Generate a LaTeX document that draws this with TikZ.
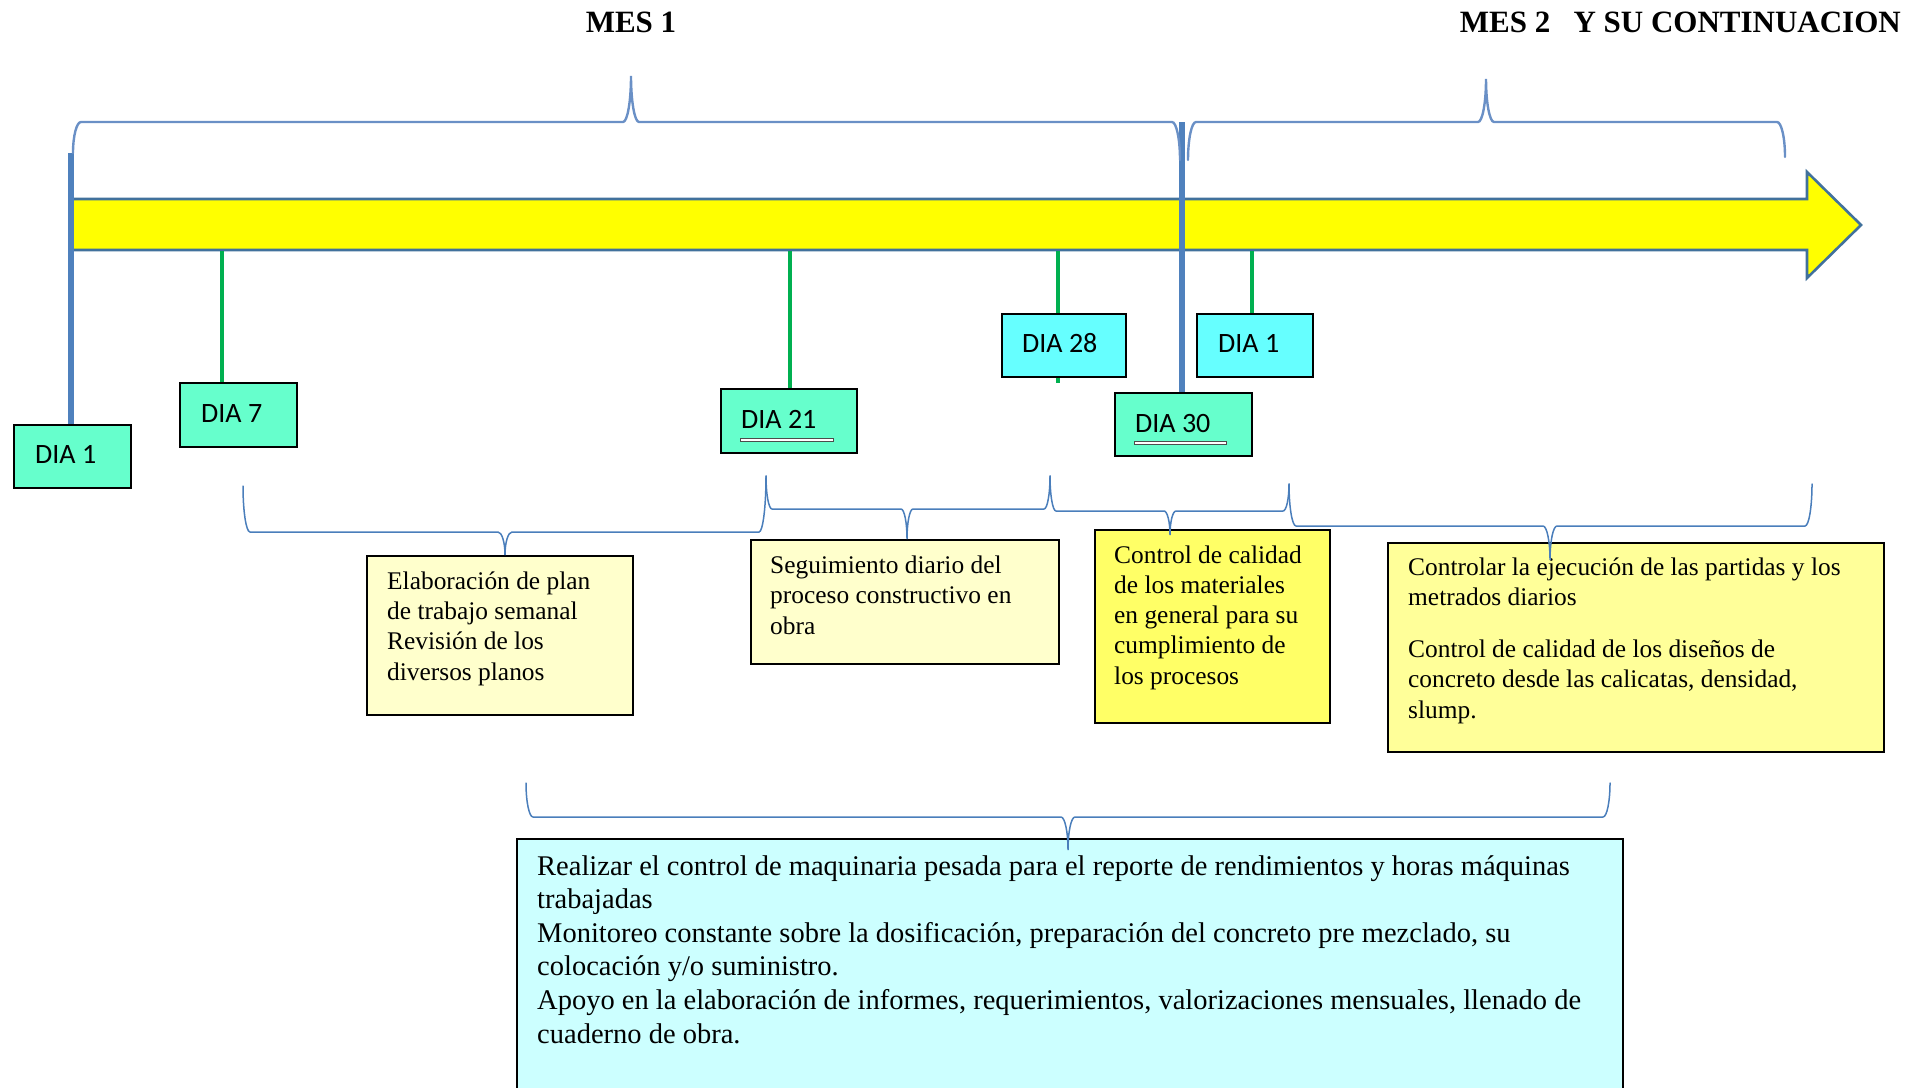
\documentclass[tikz,border=0pt]{standalone}
\usepackage{fontspec}
\setmainfont{Liberation Serif}
\newfontfamily\diafont{Carlito}

\definecolor{aquabox}{HTML}{66FFCC}
\definecolor{cyanbox}{HTML}{66FFFF}
\definecolor{paleyellow}{HTML}{FFFFCC}
\definecolor{brightyellow}{HTML}{FFFF66}
\definecolor{softyellow}{HTML}{FFFF99}
\definecolor{paleblue}{HTML}{CCFFFF}
\definecolor{barfill}{HTML}{FFFF00}
\definecolor{bracecol}{HTML}{4A7EBB}
\definecolor{topbracecol}{HTML}{6A90C6}
\definecolor{markcol}{HTML}{4F81BD}
\definecolor{tickgreen}{HTML}{00B050}
\definecolor{arrowedge}{HTML}{41719C}

% curly brace: style, x1, yEnd1, x2, yEnd2, xTip, yBar, yTip, half-width
\newcommand{\timebrace}[9]{%
  \draw[#1] (#2,#3) .. controls (#2,{#7+0.45*(#3-#7)}) and ({#2+0.45*#9},#7) .. ({#2+#9},#7)
    -- ({#6-#9},#7) .. controls ({#6-0.45*#9},#7) and (#6,{#7+0.45*(#8-#7)}) .. (#6,#8)
    .. controls (#6,{#7+0.45*(#8-#7)}) and ({#6+0.45*#9},#7) .. ({#6+#9},#7)
    -- ({#4-#9},#7) .. controls ({#4-0.45*#9},#7) and (#4,{#7+0.45*(#5-#7)}) .. (#4,#5);}

\tikzset{
  diabox/.style={draw=black, line width=2.4pt, anchor=north west, inner sep=0pt},
  dialabel/.style={anchor=base west, inner sep=0pt, font=\diafont\fontsize{28}{32}\selectfont},
  notebox/.style={draw=black, line width=2.4pt, anchor=north west, inner sep=0pt},
  % multi-line texts are placed by the baseline of their last line
  notetext/.style={anchor=base west, inner sep=0pt, align=left, font=\fontsize{25.4}{30.2}\selectfont},
  bigtext/.style={anchor=base west, inner sep=0pt, align=left, font=\fontsize{28.5}{33.6}\selectfont},
  heading/.style={inner sep=0pt, font=\fontsize{31}{36}\selectfont\bfseries},
  tick/.style={draw=tickgreen, line width=3.2pt},
  marker/.style={draw=markcol, line width=5.5pt},
  lowbrace/.style={draw=bracecol, line width=1.5pt, line cap=round},
  highbrace/.style={draw=topbracecol, line width=2.4pt, line cap=round},
  underbar/.style={draw=black!70, fill=white, line width=0.6pt}
}

\begin{document}
\begin{tikzpicture}[x=1pt, y=-1pt]
\useasboundingbox (0,0) rectangle (1918,1087);
\clip (0,0) rectangle (1918,1087);

% headings
\node[heading, anchor=base] (mes1) at (631,32) {MES 1};
\node[heading, anchor=base east] (mes2) at (1901,32) {MES 2\hspace{0.75em}Y SU CONTINUACION};

% time line arrow
\draw[draw=arrowedge, line width=2.6pt, fill=barfill, line join=miter]
  (71,199) -- (1807,199) -- (1807,172) -- (1861,225) -- (1807,278) -- (1807,250) -- (71,250) -- cycle;

% tick points on the time line
\coordinate (k7) at (222,251);
\coordinate (k21) at (790,251);
\coordinate (k28) at (1058,251);
\coordinate (k28end) at (1058,383);
\coordinate (kb1) at (1252,251);
\coordinate (m1) at (71,153);
\coordinate (m2) at (1182,122);

% green ticks
\draw[tick] (k28) -- (k28end);

% day boxes
\node[diabox, fill=aquabox, minimum width=117pt, minimum height=63pt] (d1) at (13,424) {};
\node[dialabel] (d1l) at (35,463) {DIA 1};
\node[diabox, fill=aquabox, minimum width=117pt, minimum height=64pt] (d7) at (179,382) {};
\node[dialabel] (d7l) at (201,422) {DIA 7};
\node[diabox, fill=aquabox, minimum width=136pt, minimum height=64pt] (d21) at (720,388) {};
\node[dialabel] (d21l) at (741,428) {DIA 21};
\draw[underbar] (740,438) rectangle (833,441);
\node[diabox, fill=cyanbox, minimum width=124pt, minimum height=63pt] (d28) at (1001,313) {};
\node[dialabel] (d28l) at (1022,352) {DIA 28};
\node[diabox, fill=cyanbox, minimum width=116pt, minimum height=63pt] (db1) at (1196,313) {};
\node[dialabel] (db1l) at (1218,352) {DIA 1};
\node[diabox, fill=aquabox, minimum width=137pt, minimum height=63pt] (d30) at (1114,392) {};
\node[dialabel] (d30l) at (1135,432) {DIA 30};
\draw[underbar] (1134,441.5) rectangle (1226,444.5);

\draw[tick] (k7) -- (k7 |- d7.north);
\draw[tick] (k21) -- (k21 |- d21.north);
\draw[tick] (kb1) -- (kb1 |- db1.north);

% month markers
\draw[marker] (m1) -- (m1 |- d1.north);
\draw[marker] (m2) -- (m2 |- d30.north);

% note boxes
\node[notebox, fill=paleyellow, minimum width=266pt, minimum height=159pt] (n1) at (366,555) {};
\node[notetext] (n1t) at (387,680) {Elaboración de plan\\de trabajo semanal\\Revisión de los\\diversos planos};

\node[notebox, fill=paleyellow, minimum width=308pt, minimum height=124pt] (n2) at (750,539) {};
\node[notetext] (n2t) at (770,634) {Seguimiento diario del\\proceso constructivo en\\obra};

\node[notebox, fill=brightyellow, minimum width=235pt, minimum height=193pt] (n3) at (1094,529) {};
\node[notetext] (n3t) at (1114,684) {Control de calidad\\de los materiales\\en general para su\\cumplimiento de\\los procesos};

\node[notebox, fill=softyellow, minimum width=496pt, minimum height=209pt] (n4) at (1387,542) {};
\node[notetext] (n4t) at (1408,718) {Controlar la ejecución de las partidas y los\\metrados diarios\\[22pt]Control de calidad de los diseños de\\concreto desde las calicatas, densidad,\\slump.};

\node[notebox, fill=paleblue, minimum width=1106pt, minimum height=270pt] (n5) at (516,838) {};
\node[bigtext] (n5t) at (537,1043) {Realizar el control de maquinaria pesada para el reporte de rendimientos y horas máquinas\\trabajadas\\Monitoreo constante sobre la dosificación, preparación del concreto pre mezclado, su\\colocación y/o suministro.\\Apoyo en la elaboración de informes, requerimientos, valorizaciones mensuales, llenado de\\cuaderno de obra.};

% month braces
\timebrace{highbrace}{73}{153}{1180}{160}{631}{122}{76}{8}
\timebrace{highbrace}{1188}{160}{1785}{157}{1486}{122}{79}{8}

% activity braces
\timebrace{lowbrace}{243}{486}{766}{476}{505}{532}{555}{7}
\timebrace{lowbrace}{766}{476}{1050}{476}{907}{509}{539}{6}
\timebrace{lowbrace}{1050}{476}{1289}{484}{1170}{511}{535}{6}
\timebrace{lowbrace}{1289}{484}{1812}{484}{1550}{526}{560}{7}
\timebrace{lowbrace}{526}{783}{1610}{783}{1068}{817}{850}{7}
\end{tikzpicture}
\end{document}
